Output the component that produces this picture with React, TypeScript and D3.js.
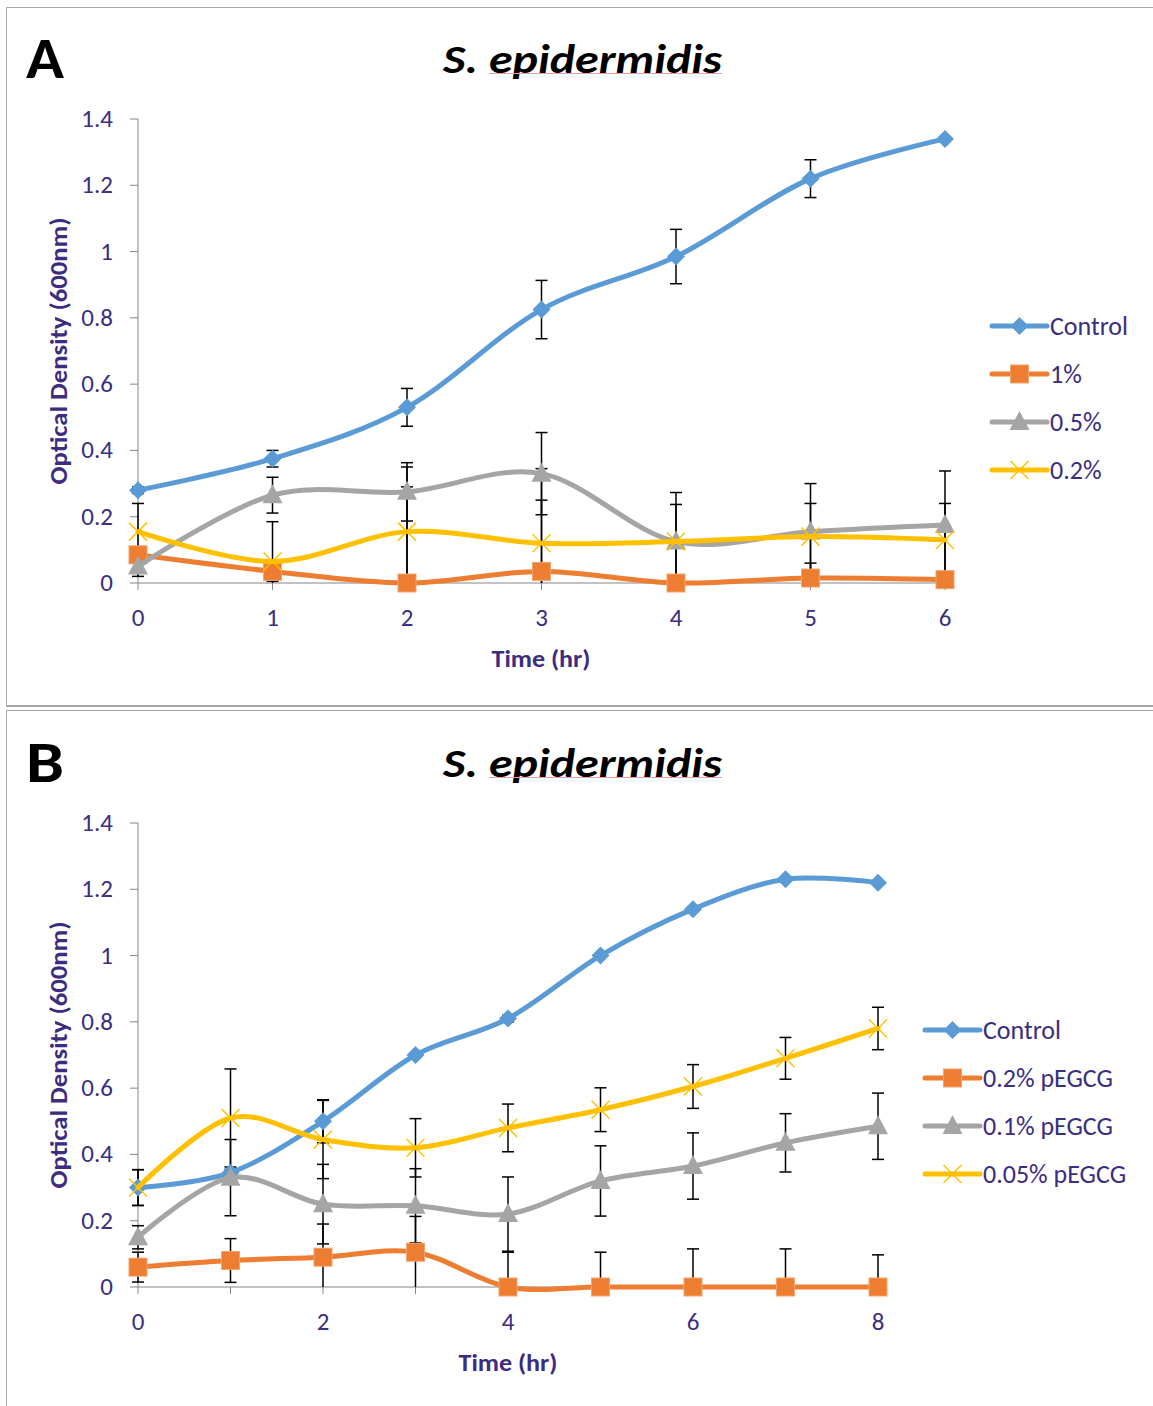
import React from "react";
import * as d3 from "d3";

const timeA = [0, 1, 2, 3, 4, 5, 6];
const controlA = [0.28, 0.375, 0.53, 0.825, 0.985, 1.22, 1.34];
const controlAErr = [0.01, 0.025, 0.057, 0.088, 0.082, 0.057, 0];
const pct1A = [0.085, 0.035, 0, 0.035, 0, 0.015, 0.01];
const pct1AErr = [0.02, 0.03, 0.29, 0.31, 0, 0.045, 0];
const pct05A = [0.05, 0.265, 0.275, 0.33, 0.125, 0.155, 0.175];
const pct05AErr = [0.03, 0.054, 0.088, 0.124, 0.148, 0.145, 0.163];
const pct02A = [0.155, 0.065, 0.155, 0.12, 0.125, 0.14, 0.13];
const pct02AErr = [0.085, 0.12, 0.195, 0.13, 0.112, 0.1, 0.11];
const legendA = ["Control", "1%", "0.5%", "0.2%"];
const xTicksA = [0, 1, 2, 3, 4, 5, 6];

const timeB = [0, 1, 2, 3, 4, 5, 6, 7, 8];
const controlB = [0.3, 0.345, 0.5, 0.7, 0.81, 1.0, 1.14, 1.23, 1.22];
const controlBErr = [0.054, 0.01, 0.065, 0, 0.01, 0, 0, 0, 0];
const egcg02B = [0.06, 0.08, 0.09, 0.105, 0, 0, 0, 0, 0];
const egcg02BErr = [0.045, 0.066, 0.1, 0.108, 0.105, 0.105, 0.115, 0.115, 0.097];
const egcg01B = [0.15, 0.33, 0.25, 0.245, 0.22, 0.32, 0.365, 0.435, 0.485];
const egcg01BErr = [0.035, 0.115, 0.12, 0.112, 0.112, 0.106, 0.1, 0.088, 0.1];
const egcg005B = [0.3, 0.51, 0.445, 0.42, 0.48, 0.535, 0.605, 0.69, 0.78];
const egcg005BErr = [0.054, 0.148, 0.118, 0.088, 0.072, 0.066, 0.066, 0.063, 0.064];
const legendB = ["Control", "0.2% pEGCG", "0.1% pEGCG", "0.05% pEGCG"];
const xTicksB = [0, 2, 4, 6, 8];

const yTicks = [0, 0.2, 0.4, 0.6, 0.8, 1, 1.2, 1.4];
const colors = ["#5B9BD5", "#ED7D31", "#A5A5A5", "#FFC000"];
const markers = ["diamond", "square", "triangle", "x"];
const TXT = "#3B2D80";
const FONT = "Carlito, Calibri, 'Open Sans', sans-serif";

function Marker({ kind, x, y, color }: { kind: string; x: number; y: number; color: string }) {
  if (kind === "diamond")
    return <path d={`M${x},${y - 9}L${x + 9},${y}L${x},${y + 9}L${x - 9},${y}Z`} fill={color} />;
  if (kind === "square")
    return <rect x={x - 9} y={y - 9} width={18} height={18} fill={color} stroke="#F4A46C" strokeWidth={1} />;
  if (kind === "triangle")
    return <path d={`M${x},${y - 11}L${x + 10},${y + 8}L${x - 10},${y + 8}Z`} fill={color} />;
  return (
    <g stroke={color} strokeWidth={1.5}>
      <line x1={x - 9} y1={y - 9} x2={x + 9} y2={y + 9} />
      <line x1={x - 9} y1={y + 9} x2={x + 9} y2={y - 9} />
    </g>
  );
}

type PanelProps = {
  letter: string;
  top: number;
  time: number[];
  series: number[][];
  errs: number[][];
  labels: string[];
  xTicks: number[];
  xMax: number;
  xRight: number;
  legendX: number;
  legendY: number;
  yLabelX: number;
  timeX: number;
};

function Panel(p: PanelProps) {
  const y0 = p.top + 576;
  const y1 = p.top + 112;
  const x = d3.scaleLinear().domain([0, p.xMax]).range([138, p.xRight]);
  const y = d3.scaleLinear().domain([0, 1.4]).range([y0, y1]);
  const line = d3
    .line<number>()
    .x((_, i) => x(p.time[i]))
    .y((d) => y(d))
    .curve(d3.curveCardinal.tension(0));
  const midY = (y0 + y1) / 2;
  return (
    <g>
      <text x={26} y={p.top + 71} fontFamily={FONT} fontWeight="bold" fontSize={58} fill="#000"
        textLength={38} lengthAdjust="spacingAndGlyphs">{p.letter}</text>
      <text x={443} y={p.top + 66} fontFamily={FONT} fontWeight="bold" fontStyle="italic" fontSize={41}
        fill="#000" textLength={279} lengthAdjust="spacingAndGlyphs">S. epidermidis</text>
      <line x1={489} x2={722} y1={p.top + 66.5} y2={p.top + 66.5} stroke="#E8A0A0" strokeWidth={1} />
      {/* axes */}
      <line x1={138} x2={138} y1={y1} y2={y0} stroke="#868686" strokeWidth={1} />
      <line x1={138} x2={p.xRight} y1={y0} y2={y0} stroke="#868686" strokeWidth={1} />
      {yTicks.map((t) => (
        <g key={t}>
          <line x1={130} x2={138} y1={y(t)} y2={y(t)} stroke="#868686" />
          <text x={113} y={y(t) + 8} textAnchor="end" fontFamily={FONT} fontSize={25} fill={TXT}>{t}</text>
        </g>
      ))}
      {p.time.map((t) => (
        <line key={t} x1={x(t)} x2={x(t)} y1={y0} y2={y0 + 7} stroke="#868686" />
      ))}
      {p.xTicks.map((t) => (
        <text key={t} x={x(t)} y={y0 + 43} textAnchor="middle" fontFamily={FONT} fontSize={25} fill={TXT}>{t}</text>
      ))}
      <text transform={`translate(${p.yLabelX},${midY}) rotate(-90)`} textAnchor="middle" fontFamily={FONT}
        fontWeight="bold" fontSize={24} fill={TXT} textLength={267} lengthAdjust="spacingAndGlyphs">
        Optical Density (600nm)
      </text>
      <text x={p.timeX} y={y0 + 84} textAnchor="middle" fontFamily={FONT} fontWeight="bold" fontSize={25}
        fill={TXT} textLength={99} lengthAdjust="spacingAndGlyphs">Time (hr)</text>
      {/* error bars */}
      {p.series.map((s, si) =>
        s.map((v, i) => {
          const e = p.errs[si][i];
          if (!e) return null;
          const hi = Math.min(1.4, v + e);
          const lo = Math.max(0, v - e);
          const cx = x(p.time[i]);
          return (
            <g key={`${si}-${i}`} stroke="#000" strokeWidth={1.5}>
              <line x1={cx} x2={cx} y1={y(hi)} y2={y(lo)} />
              {v + e <= 1.4 && <line x1={cx - 6} x2={cx + 6} y1={y(v + e)} y2={y(v + e)} />}
              {v - e >= 0 && <line x1={cx - 6} x2={cx + 6} y1={y(v - e)} y2={y(v - e)} />}
            </g>
          );
        })
      )}
      {/* series */}
      {p.series.map((s, si) => (
        <g key={si}>
          <path d={line(s) || ""} fill="none" stroke={colors[si]} strokeWidth={5} strokeLinecap="round" />
          {s.map((v, i) => (
            <Marker key={i} kind={markers[si]} x={x(p.time[i])} y={y(v)} color={colors[si]} />
          ))}
        </g>
      ))}
      {/* legend */}
      {p.labels.map((l, i) => {
        const ly = p.legendY + i * 48;
        return (
          <g key={l}>
            <line x1={p.legendX} x2={p.legendX + 55} y1={ly} y2={ly} stroke={colors[i]} strokeWidth={5}
              strokeLinecap="round" />
            <Marker kind={markers[i]} x={p.legendX + 27.5} y={ly} color={colors[i]} />
            <text x={p.legendX + 58} y={ly + 9} fontFamily={FONT} fontSize={26} fill={TXT}>{l}</text>
          </g>
        );
      })}
    </g>
  );
}

export default function App() {
  return (
    <svg width={1153} height={1406} style={{ position: "absolute", left: 0, top: 0, background: "#fff" }}>
      <rect x={0} y={0} width={1153} height={1406} fill="#fff" />
      <path d="M1153,7.5H6.5V706" fill="none" stroke="#A6A6A6" strokeWidth={1} />
      <line x1={6} x2={1153} y1={706} y2={706} stroke="#A6A6A6" strokeWidth={2} />
      <path d="M1153,710.5H6.5V1406" fill="none" stroke="#A6A6A6" strokeWidth={1} />
      <Panel letter="A" top={7} time={timeA} series={[controlA, pct1A, pct05A, pct02A]}
        errs={[controlAErr, pct1AErr, pct05AErr, pct02AErr]} labels={legendA} xTicks={xTicksA}
        xMax={6} xRight={945} legendX={992} legendY={326} yLabelX={67} timeX={541} />
      <Panel letter="B" top={711} time={timeB} series={[controlB, egcg02B, egcg01B, egcg005B]}
        errs={[controlBErr, egcg02BErr, egcg01BErr, egcg005BErr]} labels={legendB} xTicks={xTicksB}
        xMax={8} xRight={878} legendX={925} legendY={1030} yLabelX={67} timeX={508} />
    </svg>
  );
}
